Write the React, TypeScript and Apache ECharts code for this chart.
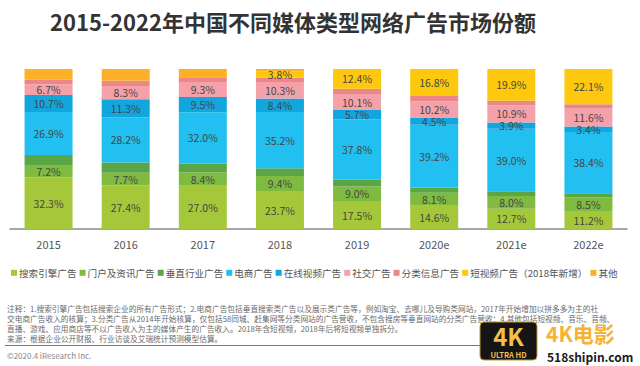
import React, { useEffect, useRef } from "react";
import * as echarts from "echarts";

const years = ["2015", "2016", "2017", "2018", "2019", "2020e", "2021e", "2022e"];
const searchAds = [32.3, 27.4, 27.0, 23.7, 17.5, 14.6, 12.7, 11.2];
const portalAds = [7.2, 7.7, 8.4, 9.4, 9.0, 8.1, 8.0, 8.5];
const verticalAds = [6.7, 6.5, 5.6, 4.8, 4.3, 3.3, 2.9, 2.6];
const ecommerceAds = [26.9, 28.2, 32.0, 35.2, 37.8, 39.2, 39.0, 38.4];
const videoAds = [10.7, 11.3, 9.5, 8.4, 5.7, 4.5, 3.9, 3.4];
const socialAds = [6.7, 8.3, 9.3, 10.3, 10.1, 10.2, 10.9, 11.6];
const classifiedAds = [2.9, 3.3, 3.0, 2.9, 3.2, 3.3, 2.7, 2.2];
const shortVideoAds = [0, 0, 0, 3.8, 12.4, 16.8, 19.9, 22.1];
const otherAds = [6.6, 7.3, 5.2, 1.5, 0, 0, 0, 0];

const seriesDefs = [
  { name: "搜索引擎广告", data: searchAds, color: "#a5c83a", label: true },
  { name: "门户及资讯广告", data: portalAds, color: "#7fbb40", label: true },
  { name: "垂直行业广告", data: verticalAds, color: "#5aa545", label: false },
  { name: "电商广告", data: ecommerceAds, color: "#22c0f0", label: true },
  { name: "在线视频广告", data: videoAds, color: "#12a6de", label: true },
  { name: "社交广告", data: socialAds, color: "#f5a1aa", label: true },
  { name: "分类信息广告", data: classifiedAds, color: "#ec8788", label: false },
  { name: "短视频广告（2018年新增）", data: shortVideoAds, color: "#fec80e", label: true },
  { name: "其他", data: otherAds, color: "#fbb025", label: false },
];

const notes = [
  "注释：1.搜索引擎广告包括搜索企业的所有广告形式；2.电商广告包括垂直搜索类广告以及展示类广告等，例如淘宝、去哪儿及导购类网站，2017年开始增加以拼多多为主的社",
  "交电商广告收入的核算；3.分类广告从2014年开始核算，仅包括58同城、赶集网等分类网站的广告营收，不包含搜房等垂直网站的分类广告营收；4.其他包括短视频、音乐、音频、",
  "直播、游戏、应用商店等不以广告收入为主的媒体产生的广告收入。2018年含短视频，2018年后将短视频单独拆分。",
  "来源：根据企业公开财报、行业访谈及艾瑞统计预测模型估算。",
];

const FONT = "'Noto Sans CJK SC', 'Noto Sans', sans-serif";

export default function App() {
  const ref = useRef<HTMLDivElement>(null);
  useEffect(() => {
    if (!ref.current) return;
    const chart = echarts.init(ref.current, null, { renderer: "svg" });
    const graphics: any[] = [
      {
        type: "text",
        left: 50,
        top: 10,
        style: {
          text: "2015-2022年中国不同媒体类型网络广告市场份额",
          font: `bold 22px ${FONT}`,
          fill: "#333333",
        },
      },
    ];
    notes.forEach((t, i) => {
      graphics.push({
        type: "text",
        x: 7,
        y: 308 + i * 10,
        style: { text: t, font: `7.7px ${FONT}`, fill: "#6a6a6a", verticalAlign: "middle" },
      });
    });
    graphics.push(
      { type: "line", shape: { x1: 5, y1: 345.5, x2: 500, y2: 345.5 }, style: { stroke: "#777", lineWidth: 1 } },
      {
        type: "text",
        x: 7,
        y: 355,
        style: { text: "©2020.4 iResearch Inc.", font: `8px ${FONT}`, fill: "#888", verticalAlign: "middle" },
      },
      { type: "rect", shape: { x: 480, y: 322, width: 57, height: 38, r: 4 }, style: { fill: "#151515", stroke: "#c9962a", lineWidth: 1 } },
      {
        type: "text",
        x: 508.5,
        y: 335,
        style: { text: "4K", font: `bold 24px ${FONT}`, fill: "#f2c14a", align: "center", verticalAlign: "middle" },
      },
      {
        type: "text",
        x: 508.5,
        y: 354,
        style: { text: "ULTRA HD", font: `bold 7.5px ${FONT}`, fill: "#f2c14a", align: "center", verticalAlign: "middle" },
      },
      {
        type: "text",
        x: 546,
        y: 333,
        style: { text: "4K电影", font: `bold 21px ${FONT}`, fill: "#f5b335", verticalAlign: "middle" },
      },
      {
        type: "text",
        x: 547,
        y: 356,
        style: { text: "518shipin.com", font: `bold 12px ${FONT}`, fill: "#1a1a1a", verticalAlign: "middle" },
      }
    );

    chart.setOption({
      animation: false,
      backgroundColor: "#ffffff",
      textStyle: { fontFamily: FONT },
      grid: { left: 10, right: 13, top: 69, bottom: 137, containLabel: false },
      legend: {
        left: 6,
        top: 263,
        itemWidth: 6,
        itemHeight: 6,
        itemGap: 3,
        icon: "rect",
        textStyle: { fontSize: 9.6, color: "#555", padding: [0, 0, 0, -3] },
        data: seriesDefs.map((s) => s.name),
      },
      xAxis: {
        type: "category",
        data: years,
        axisLine: { lineStyle: { color: "#8a8a8a", width: 1.5 } },
        axisTick: { show: false },
        axisLabel: { color: "#555", fontSize: 11, margin: 9 },
      },
      yAxis: { type: "value", min: 0, max: 100, show: false, splitLine: { show: false } },
      series: seriesDefs.map((s) => ({
        name: s.name,
        type: "bar",
        stack: "total",
        barWidth: 48,
        data: s.data,
        itemStyle: { color: s.color },
        label: {
          show: s.label,
          position: "inside",
          fontSize: 10.5,
          color: "#454545",
          formatter: (p: any) => (p.value > 0 ? p.value.toFixed(1) + "%" : ""),
        },
      })),
      graphic: graphics,
    });
    return () => chart.dispose();
  }, []);
  return (
    <div
      ref={ref}
      style={{ position: "fixed", left: 0, top: 0, width: 640, height: 366, background: "#fff" }}
    />
  );
}
